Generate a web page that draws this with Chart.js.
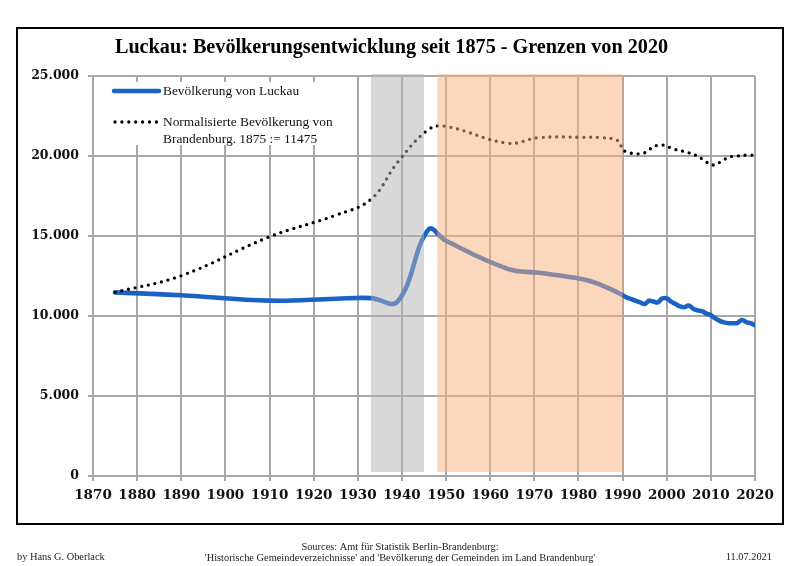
<!DOCTYPE html>
<html>
<head>
<meta charset="utf-8">
<script src="https://cdn.jsdelivr.net/npm/chart.js@4/dist/chart.umd.min.js"></script>
<style>
html,body{margin:0;padding:0;background:#fff;}
canvas{display:block;}
</style>
</head>
<body>
<canvas id="c" width="800" height="566"></canvas>
<script>
// ---- data ----
const luckauYears = [1875,1890,1910,1925,1933,1939,1946,1950,1964,1971,1981,1985,1989,
  1990,1991,1992,1993,1994,1995,1996,1997,1998,1999,2000,2001,2002,2003,2004,2005,
  2006,2007,2008,2009,2010,2011,2012,2013,2014,2015,2016,2017,2018,2019,2020];
const luckauValues = [11475,11300,10960,11080,11120,10900,15400,14700,12950,12700,12300,11950,11450,
  11300,11150,11050,10950,10850,10750,10950,10900,10850,11100,11100,10900,10750,10600,10550,10650,
  10450,10350,10300,10150,10050,9850,9700,9600,9550,9550,9560,9750,9620,9550,9420];

const brbYears = [1875,1890,1910,1925,1933,1939,1946,1950,1964,1971,1981,1985,1989,
  1990,1991,1992,1993,1994,1995,1996,1997,1998,1999,2000,2001,2002,2003,2004,2005,
  2006,2007,2008,2009,2010,2011,2012,2013,2014,2015,2016,2017,2018,2019,2020];
const brbValues = [11475,12520,14950,16300,17300,19600,21650,21850,20800,21150,21170,21150,20950,
  20400,20250,20170,20130,20150,20200,20400,20560,20680,20690,20600,20500,20400,20330,20280,
  20200,20100,20000,19820,19620,19470,19450,19600,19780,19900,19980,20000,20030,20050,20050,20060];

const xTicksMin = 1870, xTicksMax = 2020, xStep = 10;
const yTicksMin = 0, yTicksMax = 25000, yStep = 5000;

const shadeGrey = [1933, 1945];
const shadeOrange = [1948, 1990];
const shadeRange = [250, 25120];

const titleText = "Luckau: Bevölkerungsentwicklung seit 1875 - Grenzen von 2020";
const legendLabels = ["Bevölkerung von Luckau", "Normalisierte Bevölkerung von", "Brandenburg. 1875 := 11475"];
const footerLeft = "by Hans G. Oberlack";
const footerCenter = ["Sources: Amt für Statistik Berlin-Brandenburg:",
  "'Historische Gemeindeverzeichnisse' and 'Bevölkerung der Gemeinden im Land Brandenburg'"];
const footerRight = "11.07.2021";

const BLUE = '#1b62c6';
const GRID = '#a8a8a8';

function fmt(v){
  if (v === 0) return '0';
  return Math.round(v/1000) + '.000';
}

const decoPlugin = {
  id: 'deco',
  beforeDraw(chart){
    const ctx = chart.ctx;
    ctx.save();
    ctx.fillStyle = '#fff';
    ctx.fillRect(0,0,chart.width,chart.height);
    ctx.restore();
  },
  afterDatasetsDraw(chart){
    const ctx = chart.ctx;
    const xs = chart.scales.x, ys = chart.scales.y;
    ctx.save();
    const yT = ys.getPixelForValue(shadeRange[1]);
    const yB = ys.getPixelForValue(shadeRange[0]);
    // grey overlay
    ctx.fillStyle = 'rgba(178,178,178,0.5)';
    let x0 = xs.getPixelForValue(shadeGrey[0]), x1 = xs.getPixelForValue(shadeGrey[1]);
    ctx.fillRect(x0, yT, x1-x0, yB-yT);
    // orange overlay
    ctx.fillStyle = 'rgba(247,176,126,0.5)';
    x0 = xs.getPixelForValue(shadeOrange[0]); x1 = xs.getPixelForValue(shadeOrange[1]);
    ctx.fillRect(x0, yT, x1-x0, yB-yT);

    // legend box
    ctx.fillStyle = '#fff';
    ctx.fillRect(96, 82, 256, 63);
    ctx.lineCap = 'round';
    ctx.strokeStyle = BLUE;
    ctx.lineWidth = 4.5;
    ctx.beginPath(); ctx.moveTo(114, 91); ctx.lineTo(159, 91); ctx.stroke();
    ctx.strokeStyle = '#000';
    ctx.lineWidth = 3.3;
    ctx.setLineDash([0, 6.9]);
    ctx.beginPath(); ctx.moveTo(115, 122); ctx.lineTo(157, 122); ctx.stroke();
    ctx.setLineDash([]);
    ctx.fillStyle = '#111';
    ctx.font = '13.4px "Liberation Serif"';
    ctx.textAlign = 'left';
    ctx.textBaseline = 'middle';
    ctx.fillText(legendLabels[0], 163, 91);
    ctx.fillText(legendLabels[1], 163, 122);
    ctx.fillText(legendLabels[2], 163, 139);

    // title
    ctx.textAlign = 'center';
    ctx.font = 'bold 20.2px "Liberation Serif"';
    ctx.fillStyle = '#000';
    ctx.fillText(titleText, 391.5, 48);

    // frame
    ctx.strokeStyle = '#000';
    ctx.lineWidth = 2;
    ctx.strokeRect(17, 28, 766, 496);

    // footer
    ctx.font = '10.4px "Liberation Serif"';
    ctx.fillStyle = '#222';
    ctx.textAlign = 'left';
    ctx.fillText(footerLeft, 17, 557);
    ctx.textAlign = 'center';
    ctx.fillText(footerCenter[0], 400, 547);
    ctx.fillText(footerCenter[1], 400, 558);
    ctx.textAlign = 'right';
    ctx.fillText(footerRight, 772, 557);
    ctx.restore();
  }
};

new Chart(document.getElementById('c'), {
  type: 'line',
  data: {
    datasets: [
      {
        label: legendLabels[1] + ' ' + legendLabels[2],
        data: brbYears.map((y,i)=>({x:y, y:brbValues[i]})),
        borderColor: '#000',
        borderWidth: 3.3,
        borderDash: [0, 6.8],
        borderCapStyle: 'round',
        pointRadius: 0,
        tension: 0.4,
        fill: false
      },
      {
        label: legendLabels[0],
        data: luckauYears.map((y,i)=>({x:y, y:luckauValues[i]})),
        borderColor: BLUE,
        borderWidth: 4.6,
        borderCapStyle: 'round',
        borderJoinStyle: 'round',
        pointRadius: 0,
        tension: 0.4,
        fill: false
      }
    ]
  },
  options: {
    responsive: false,
    animation: false,
    layout: { padding: { left: 0, right: 45, top: 76, bottom: 60 } },
    plugins: { legend: { display: false }, title: { display: false }, tooltip: { enabled: false } },
    scales: {
      x: {
        type: 'linear',
        min: xTicksMin, max: xTicksMax,
        afterFit(s){ s.height = 30; },
        ticks: {
          stepSize: xStep,
          padding: 6,
          color: '#111',
          font: { family: 'DejaVu Serif', weight: 'bold', size: 13.5 },
          callback: v => String(v),
          maxRotation: 0, autoSkip: false
        },
        grid: { color: GRID, lineWidth: 2, tickLength: 5, drawTicks: true },
        border: { color: GRID, width: 2 }
      },
      y: {
        min: yTicksMin, max: yTicksMax,
        afterFit(s){ s.width = 93; },
        ticks: {
          stepSize: yStep,
          padding: 9,
          color: '#111',
          font: { family: 'DejaVu Serif', weight: 'bold', size: 12.5 },
          callback: v => fmt(v)
        },
        grid: { color: GRID, lineWidth: 2, tickLength: 5, drawTicks: true },
        border: { color: GRID, width: 2 }
      }
    }
  },
  plugins: [decoPlugin]
});
</script>
</body>
</html>
